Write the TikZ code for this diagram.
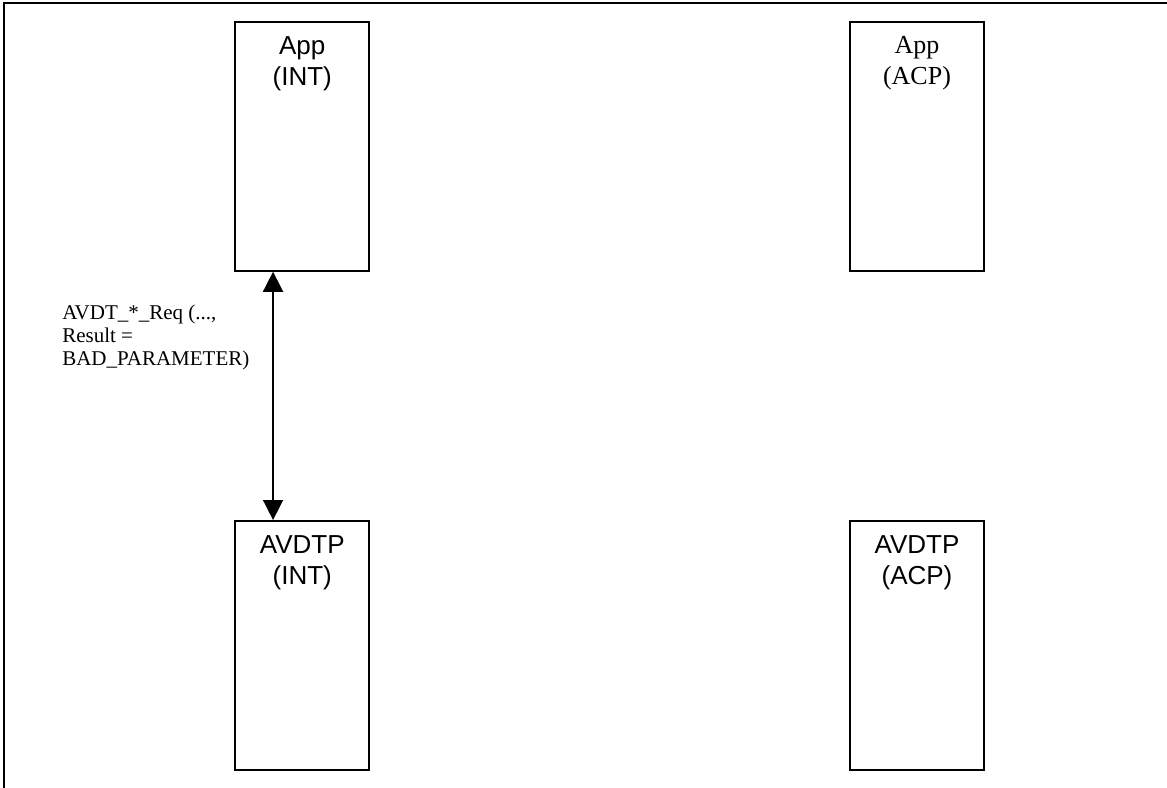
\documentclass[tikz,border=0pt]{standalone}
\usepackage{fontspec}
\setmainfont{Liberation Serif}
\newfontfamily\arialfont{Liberation Sans}
\usetikzlibrary{arrows.meta}
\begin{document}
\begin{tikzpicture}[x=0.75pt,y=-0.75pt,
  entity/.style={draw=black,line width=1.5pt,rectangle,inner sep=0pt,
    minimum width=100.5pt,minimum height=186.75pt},
  sanslbl/.style={anchor=north,inner sep=0pt,align=center,
    font=\arialfont\fontsize{19.5}{23.25}\selectfont},
  seriflbl/.style={anchor=north,inner sep=0pt,align=center,
    font=\fontsize{19.5}{23.25}\selectfont},
  msglbl/.style={anchor=north west,inner sep=0pt,align=left,
    font=\fontsize{15.75}{17.25}\selectfont},
  msgarrow/.style={line width=1.2pt,{Triangle[length=15pt,width=15pt]}-{Triangle[length=15pt,width=15pt]}}]
\useasboundingbox (0,0) rectangle (1167,788);
% frame (top and left only)
\draw[line width=1.5pt] (4.3,788) -- (4.3,2.7) -- (1167,2.7);
% boxes
\node[entity] (appint) at (302.25,146.25) {};
\node[entity] (appacp) at (917,146.25) {};
\node[entity] (avint) at (302.25,645.5) {};
\node[entity] (avacp) at (917,645.5) {};
% box texts
\node[sanslbl] (appinttxt) at ([yshift=-11.6pt]appint.north) {App\\(INT)};
\node[seriflbl] (appacptxt) at ([yshift=-11.6pt]appacp.north) {App\\(ACP)};
\node[sanslbl] (avinttxt) at ([yshift=-11.6pt]avint.north) {AVDTP\\(INT)};
\node[sanslbl] (avacptxt) at ([yshift=-11.6pt]avacp.north) {AVDTP\\(ACP)};
% message
\draw[msgarrow] ([xshift=-21.9pt]appint.south) -- ([xshift=-21.9pt]avint.north);
\node[msglbl] (msg) at (62,305) {AVDT\_*\_Req (...,\\Result =\\BAD\_PARAMETER)};
\end{tikzpicture}
\end{document}
